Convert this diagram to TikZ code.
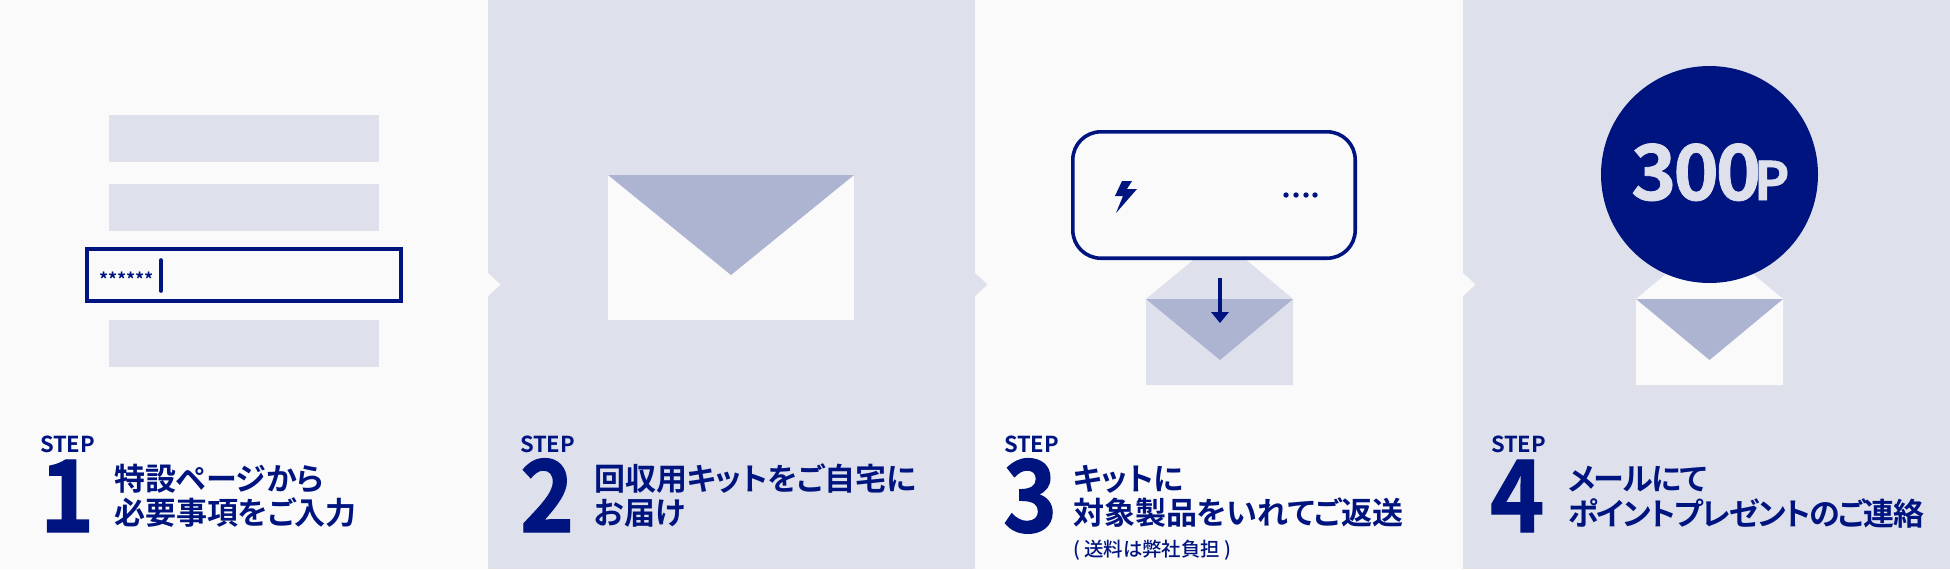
\documentclass[tikz,border=0pt]{standalone}
\usepackage{fontspec}
\setmainfont{Noto Sans CJK JP}[BoldFont={Noto Sans CJK JP Bold},RawFeature=+palt]
\newfontfamily\digitfont{Noto Sans CJK JP Bold}[FakeBold=1.2,FakeStretch=0.92]
\newfontfamily\pointfont{Noto Sans CJK JP Bold}[FakeBold=1.0,LetterSpace=-4]
\newfontfamily\tightfont{Noto Sans CJK JP Bold}[RawFeature=+palt,LetterSpace=-4.8]
\newfontfamily\mediumfont{Noto Sans CJK JP Medium}[RawFeature=+palt]
\definecolor{navy}{HTML}{00147F}
\definecolor{paper}{HTML}{FAFAFB}
\definecolor{mist}{HTML}{DEE0EC}
\definecolor{flapblue}{HTML}{ADB4D2}
\tikzset{
  every node/.style={inner sep=0pt,outer sep=0pt,text=navy},
  steplabel/.style={anchor=west,font=\bfseries\fontsize{11pt}{11pt}\selectfont},
  stepnum/.style={anchor=base west,font=\digitfont\fontsize{50pt}{50pt}\selectfont},
  captext/.style={anchor=west,font=\bfseries\fontsize{15.5pt}{15.5pt}\selectfont},
  tightcap/.style={anchor=west,font=\tightfont\fontsize{15.5pt}{15.5pt}\selectfont},
  smalltext/.style={anchor=west,font=\mediumfont\fontsize{9.7pt}{9.7pt}\selectfont},
  panelframe/.style={navy,line width=1.8pt},
}
\begin{document}
\begin{tikzpicture}[x=0.5pt,y=-0.5pt]
\useasboundingbox (0,0) rectangle (1950,569);
% panels
\fill[paper] (0,0) rectangle (488,569);
\fill[mist] (488,0) rectangle (975,569);
\fill[paper] (975,0) rectangle (1463,569);
\fill[mist] (1463,0) rectangle (1950,569);
% notches
\fill[paper] (487,272) -- (500.5,284.5) -- (487,297) -- cycle;
\fill[mist] (974,272) -- (987.5,284.5) -- (974,297) -- cycle;
\fill[paper] (1462,272) -- (1475.5,284.5) -- (1462,297) -- cycle;
% step 1 icon
\fill[mist] (109,115) rectangle (379,162);
\fill[mist] (109,184) rectangle (379,231);
\fill[mist] (109,320) rectangle (379,367);
\draw[panelframe] (86.8,248.8) rectangle (401.2,301.2);
\node[anchor=west,font=\bfseries\fontsize{9pt}{9pt}\selectfont] (stars) at (99,279) {******};
\draw[panelframe,line cap=round] (161,260) -- (161,291);
% step 2 icon
\fill[paper] (608,175) rectangle (854,320);
\fill[flapblue] (608,175) -- (854,175) -- (731,275) -- cycle;
% step 3 icon
\fill[mist] (1146,299) -- (1220,238) -- (1293,299) -- (1293,385) -- (1146,385) -- cycle;
\fill[flapblue] (1146,299) -- (1293,299) -- (1220,360) -- cycle;
\draw[panelframe,fill=paper,rounded corners=14pt] (1072.8,131.8) rectangle (1355.2,258.2);
\fill[navy] (1122,181) -- (1132,181) -- (1127,189) -- (1137,189) -- (1116,213) -- (1123,196) -- (1115,196) -- cycle;
\foreach \dx in {1286,1296,1306,1315} \fill[navy] (\dx,195) circle (1.35pt);
\coordinate (arrowstart) at (1220,278);
\coordinate (arrowbase) at (1220,314);
\draw[navy,line width=1.7pt] (arrowstart) -- (arrowbase);
\fill[navy] (1211,312) -- (1229,312) -- (1220,323) -- cycle;
% step 4 icon
\fill[paper] (1636,299) -- (1709.5,238) -- (1783,299) -- (1783,385) -- (1636,385) -- cycle;
\fill[flapblue] (1636,299) -- (1783,299) -- (1709.5,360) -- cycle;
\fill[navy] (1709.5,174.5) circle (54.25pt);
\node[anchor=base west,text=mist] (points) at (1631,200) {\pointfont\fontsize{38.5pt}{38.5pt}\selectfont 300\hspace{-3.5pt}\fontsize{26.5pt}{26.5pt}\selectfont P};
% captions
\node[steplabel] (s1) at (40,444) {STEP};
\node[stepnum] (n1) at (40,532) {1};
\node[captext] (c1a) at (114,479) {特設ページから};
\node[captext] (c1b) at (114,513) {必要事項をご入力};
\node[steplabel] (s2) at (520,444) {STEP};
\node[stepnum] (n2) at (520,532) {2};
\node[captext] (c2a) at (594,479) {回収用キットをご自宅に};
\node[captext] (c2b) at (594,513) {お届け};
\node[steplabel] (s3) at (1004,444) {STEP};
\node[stepnum] (n3) at (1003,532) {3};
\node[captext] (c3a) at (1073,479) {キットに};
\node[captext] (c3b) at (1073,513) {対象製品をいれてご返送};
\node[smalltext] (c3c) at (1073,550) {( 送料は弊社負担 )};
\node[steplabel] (s4) at (1491,444) {STEP};
\node[stepnum] (n4) at (1490,532) {4};
\node[tightcap] (c4a) at (1568,479) {メールにて};
\node[tightcap] (c4b) at (1568,513) {ポイントプレゼントのご連絡};
\end{tikzpicture}
\end{document}
